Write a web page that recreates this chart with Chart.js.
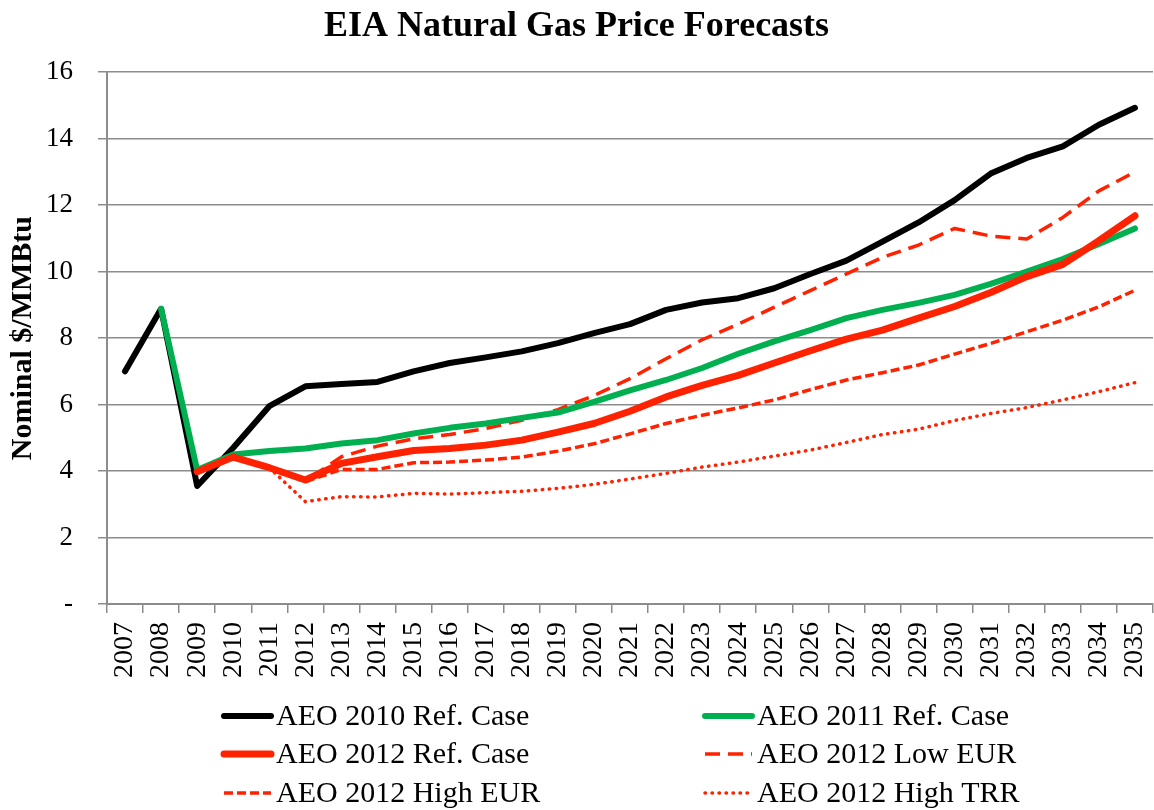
<!DOCTYPE html>
<html>
<head>
<meta charset="utf-8">
<script src="https://cdn.jsdelivr.net/npm/chart.js@4.4.1/dist/chart.umd.min.js"></script>
<style>
  body { margin: 0; background: #fff; }
  #wrap { width: 1154px; height: 810px; }
</style>
</head>
<body>
<div id="wrap"><canvas id="chart"></canvas></div>
<script>
// years on the x axis
const years = ['2007', '2008', '2009', '2010', '2011', '2012', '2013', '2014', '2015', '2016',
	'2017', '2018', '2019', '2020', '2021', '2022', '2023', '2024', '2025', '2026',
	'2027', '2028', '2029', '2030', '2031', '2032', '2033', '2034', '2035'];

// Nominal $/MMBtu
const aeo2010Ref = [7.0, 8.88, 3.55, 4.7, 5.95, 6.55, 6.62, 6.68, 7.0, 7.25, 7.42, 7.6, 7.85, 8.15, 8.42,
	8.85, 9.07, 9.2, 9.5, 9.93, 10.33, 10.9, 11.48, 12.15, 12.95, 13.42, 13.77, 14.42, 14.93];
const aeo2011Ref = [null, 8.88, 4.03, 4.5, 4.6, 4.68, 4.83, 4.93, 5.13, 5.3, 5.43, 5.6, 5.76, 6.08, 6.43,
	6.74, 7.1, 7.53, 7.9, 8.24, 8.6, 8.85, 9.06, 9.3, 9.63, 10.0, 10.38, 10.83, 11.3];
const aeo2012Ref = [null, null, 3.98, 4.42, 4.1, 3.73, 4.23, 4.43, 4.62, 4.68, 4.78, 4.93, 5.17, 5.43, 5.8,
	6.23, 6.58, 6.88, 7.25, 7.62, 7.97, 8.24, 8.6, 8.95, 9.37, 9.85, 10.22, 10.93, 11.68];
const aeo2012LowEur = [null, null, null, null, 4.1, 3.7, 4.43, 4.75, 4.97, 5.1, 5.28, 5.53, 5.85, 6.27, 6.78,
	7.38, 7.95, 8.42, 8.93, 9.43, 9.93, 10.43, 10.8, 11.3, 11.07, 10.98, 11.63, 12.43, 13.0];
const aeo2012HighEur = [null, null, null, null, 4.1, 3.68, 4.05, 4.05, 4.25, 4.27, 4.33, 4.42, 4.6, 4.82, 5.12,
	5.43, 5.68, 5.9, 6.14, 6.45, 6.74, 6.96, 7.19, 7.52, 7.84, 8.19, 8.54, 8.94, 9.44];
const aeo2012HighTrr = [null, null, null, null, 4.1, 3.08, 3.23, 3.22, 3.33, 3.31, 3.35, 3.39, 3.48, 3.6, 3.76,
	3.93, 4.12, 4.27, 4.45, 4.63, 4.86, 5.1, 5.26, 5.52, 5.73, 5.91, 6.14, 6.39, 6.66];

const yTicks = [0, 2, 4, 6, 8, 10, 12, 14, 16];

const FONT = '"Liberation Serif", "Times New Roman", serif';
const GRID = '#8c8c8c';
const RED = '#ff2200';

// legend: two columns, three rows, like the excel one
const legendPlugin = {
	id: 'twoColLegend',
	afterDraw: function (chart) {
		const ctx = chart.ctx;
		const sets = chart.data.datasets;
		const order = [2, 1, 0, 3, 4, 5];
		const colX = [224, 705];
		const rowY = [716, 754, 793];
		ctx.save();
		ctx.font = '30px ' + FONT;
		ctx.textBaseline = 'middle';
		ctx.textAlign = 'left';
		order.forEach(function (idx, n) {
			const ds = sets[idx];
			const x = colX[n % 2];
			const y = rowY[Math.floor(n / 2)];
			ctx.beginPath();
			ctx.strokeStyle = ds.borderColor;
			ctx.lineWidth = ds.borderWidth;
			ctx.lineCap = ds.borderCapStyle || 'round';
			ctx.setLineDash(ds.borderDash || []);
			ctx.moveTo(x, y);
			ctx.lineTo(x + 47, y);
			ctx.stroke();
			ctx.setLineDash([]);
			ctx.fillStyle = '#000';
			ctx.fillText(ds.label, x + 52, y + 1);
		});
		ctx.restore();
	}
};

const ctx = document.getElementById('chart').getContext('2d');
const chart = new Chart(ctx, {
	type: 'line',
	data: {
		labels: years,
		datasets: [{
			label: 'AEO 2012 Ref. Case',
			data: aeo2012Ref,
			borderColor: RED,
			borderWidth: 7,
			borderCapStyle: 'round'
		}, {
			label: 'AEO 2011 Ref. Case',
			data: aeo2011Ref,
			borderColor: '#00b050',
			borderWidth: 6,
			borderCapStyle: 'round'
		}, {
			label: 'AEO 2010 Ref. Case',
			data: aeo2010Ref,
			borderColor: '#000000',
			borderWidth: 6,
			borderCapStyle: 'round'
		}, {
			label: 'AEO 2012 Low EUR',
			data: aeo2012LowEur,
			borderColor: RED,
			borderWidth: 3.5,
			borderDash: [15, 8],
			borderCapStyle: 'butt'
		}, {
			label: 'AEO 2012 High EUR',
			data: aeo2012HighEur,
			borderColor: RED,
			borderWidth: 3.5,
			borderDash: [9, 4],
			borderCapStyle: 'butt'
		}, {
			label: 'AEO 2012 High TRR',
			data: aeo2012HighTrr,
			borderColor: RED,
			borderWidth: 3.5,
			borderDash: [0.5, 6.5],
			borderCapStyle: 'round'
		}]
	},
	options: {
		responsive: true,
		maintainAspectRatio: false,
		animation: false,
		layout: {
			padding: { left: 0, right: 1, top: 0, bottom: 120 }
		},
		elements: {
			point: { radius: 0, hoverRadius: 0 },
			line: { tension: 0, fill: false, borderJoinStyle: 'round' }
		},
		plugins: {
			legend: { display: false },
			tooltip: { enabled: false },
			title: {
				display: true,
				text: 'EIA Natural Gas Price Forecasts',
				color: '#000',
				font: { family: FONT, size: 36, weight: 'bold' },
				padding: { top: 5, bottom: 24 }
			}
		},
		scales: {
			x: {
				offset: true,
				grid: {
					offset: true,
					drawOnChartArea: false,
					drawTicks: true,
					tickLength: 9,
					color: GRID,
					lineWidth: 1.5
				},
				border: { color: GRID, width: 2 },
				ticks: {
					color: '#000',
					font: { family: FONT, size: 28 },
					minRotation: 90,
					maxRotation: 90,
					autoSkip: false,
					padding: 9
				},
				afterFit: function (scale) {
					scale.height = 86;
					scale.paddingLeft = 0;
					scale.paddingRight = 0;
				}
			},
			y: {
				min: 0,
				max: 16,
				afterBuildTicks: function (scale) {
					scale.ticks = yTicks.map(function (v) { return { value: v }; });
				},
				grid: {
					color: GRID,
					lineWidth: 1.5,
					tickLength: 9
				},
				border: { color: GRID, width: 2 },
				ticks: {
					color: '#000',
					font: { family: FONT, size: 27 },
					padding: 25,
					callback: function (v) { return v === 0 ? '-' : v; }
				},
				title: {
					display: true,
					text: 'Nominal $/MMBtu',
					color: '#000',
					font: { family: FONT, size: 30, weight: 'bold' },
					padding: { top: 5, bottom: 0 }
				},
				afterFit: function (scale) { scale.width = 107; }
			}
		}
	},
	plugins: [legendPlugin]
});
</script>
</body>
</html>
